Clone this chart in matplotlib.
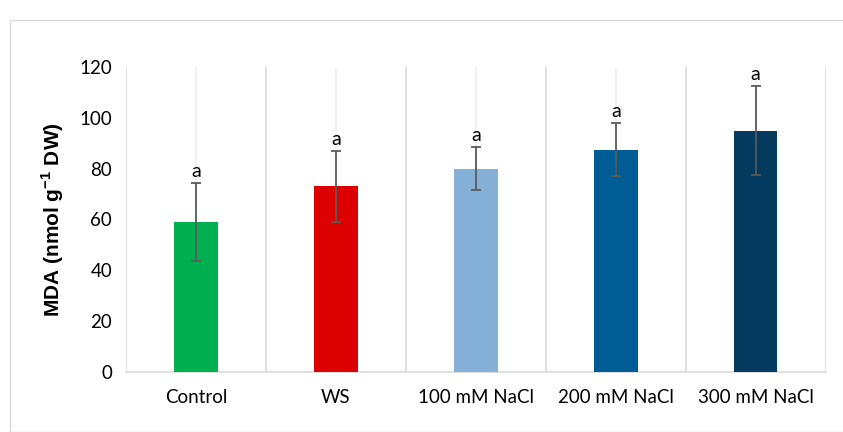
import matplotlib.pyplot as plt
from matplotlib.patches import Rectangle

# treatment groups and their MDA values
groups = ['Control', 'WS', '100 mM NaCl', '200 mM NaCl', '300 mM NaCl']
mda = [59, 73, 80, 87.5, 95]
mda_err = [15.5, 14, 8.5, 10.5, 17.5]
letters = ['a', 'a', 'a', 'a', 'a']
colors = ['#00b050', '#dd0000', '#85b1d9', '#005c94', '#043a5e']

plt.rcParams['font.family'] = ['Lato', 'DejaVu Sans']
plt.rcParams['mathtext.fontset'] = 'custom'
plt.rcParams['mathtext.rm'] = 'Liberation Sans'
plt.rcParams['mathtext.bf'] = 'Liberation Sans:bold'

fig = plt.figure(figsize=(8.43, 4.32), dpi=100)
ax = fig.add_axes([0.1495, 0.139, 0.83, 0.706])

# light border around the whole chart
fig.patches.append(Rectangle((10 / 843, 0), 1, 1 - 20 / 432, transform=fig.transFigure,
                             fill=False, edgecolor='#d9d9d9', linewidth=1))

x = range(len(groups))
ax.bar(x, mda, width=0.31, color=colors, zorder=3)
ax.errorbar(x, mda, yerr=mda_err, fmt='none', ecolor='#5a5a5a', elinewidth=1.3,
            capsize=3.5, capthick=1.3, zorder=4)

for i in x:
    ax.text(i, mda[i] + mda_err[i] + 1.2, letters[i], ha='center', va='bottom', fontsize=14)

# vertical separators between groups and faint lines at the centres
for b in [i - 0.5 for i in range(len(groups) + 1)]:
    ax.axvline(b, color='#d9d9d9', linewidth=1.2, zorder=1)
for c in x:
    ax.axvline(c, color='#efefef', linewidth=1.2, zorder=1)

ax.set_xlim(-0.5, len(groups) - 0.5)
ax.set_ylim(0, 120)
ax.set_yticks(range(0, 121, 20))
ax.set_xticks(list(x))
ax.set_xticklabels(groups, fontsize=13.5)
ax.tick_params(axis='y', labelsize=13.5, length=0, pad=10)
ax.tick_params(axis='x', length=0, pad=12)
for s in ['top', 'right', 'left']:
    ax.spines[s].set_visible(False)
ax.spines['bottom'].set_color('#d9d9d9')
ax.spines['bottom'].set_linewidth(1.2)

ax.set_ylabel(r'MDA (nmol g$^{\mathbf{-1}}$ DW)', fontsize=15, fontweight='bold',
              family='Liberation Sans', labelpad=10)

fig.savefig('out.png', dpi=100)
